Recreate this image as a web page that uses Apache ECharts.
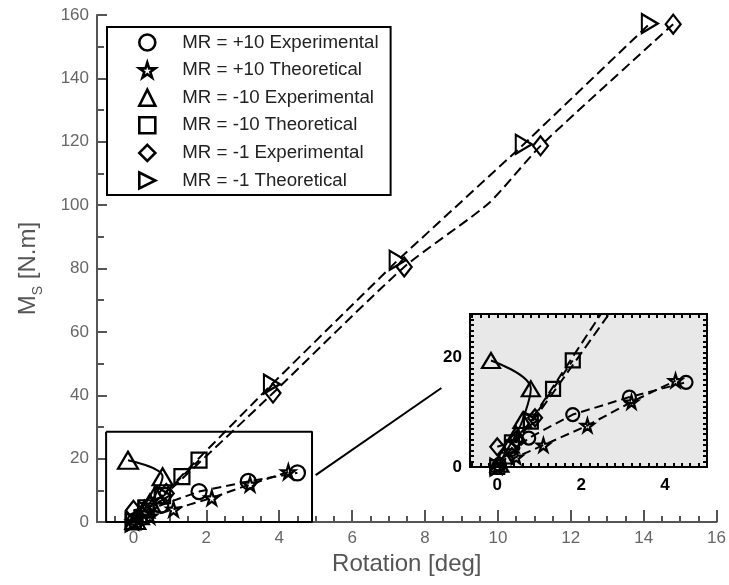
<!DOCTYPE html>
<html>
<head>
<meta charset="utf-8">
<script src="https://cdn.jsdelivr.net/npm/echarts@6/dist/echarts.min.js"></script>
<style>
html, body { margin: 0; padding: 0; background: #fff; }
#chart { width: 729px; height: 585px; }
</style>
</head>
<body>
<div id="chart"></div>
<script>
// series values (rotation in deg, moment in N.m)
var names = ['MR = +10 Experimental', 'MR = +10 Theoretical', 'MR = -10 Experimental',
             'MR = -10 Theoretical', 'MR = -1 Experimental', 'MR = -1 Theoretical'];

var p10ExpX = [0.05, 0.75, 1.8, 3.15, 4.5];
var p10ExpY = [0.5, 5.3, 9.6, 12.8, 15.5];

var p10TheoX = [0, 0.45, 1.1, 2.15, 3.2, 4.25];
var p10TheoY = [0, 1.8, 4.0, 7.6, 11.9, 15.8];

var m10ExpX = [-0.15, 0.8, 0.6, 0.45, 0.3, 0.15, 0.05];
var m10ExpY = [19.5, 14.3, 8.5, 6.0, 4.0, 2.0, 0.5];

var m10TheoX = [0, 0.35, 0.8, 1.33, 1.8];
var m10TheoY = [0, 4.5, 8.3, 14.3, 19.5];

var m1ExpX = [0, 0.45, 0.9, 3.83, 7.43, 9.75, 11.17, 14.81];
var m1ExpY = [3.7, 5.0, 9.0, 40.7, 80.5, 100.6, 118.7, 157.1];
var m1ExpNoMark = [5];   // bend in the curve, no marker drawn there

var m1TheoX = [0, 0.35, 0.8, 3.8, 7.25, 10.71, 14.17];
var m1TheoY = [0, 3.5, 8.5, 43.5, 82.6, 119.2, 157.3];

// zoom frame and connector drawn on the main plot
var boxX = [-0.75, 4.9, 4.9, -0.75, -0.75];
var boxY = [28.5, 28.5, 0, 0, 28.5];
var linkX = [5.0, 8.45];
var linkY = [14.8, 42.3];

// tick labels
var xMajor = [0, 2, 4, 6, 8, 10, 12, 14, 16];
var xMinor = [];
for (var t = -0.5; t <= 16; t += 0.5) xMinor.push(t);
var insetXLabels = [0, 2, 4];
var insetYLabels = [0, 20];
var insetXTicks = [];
for (var u = -0.6; u <= 5; u += 0.2) insetXTicks.push(+u.toFixed(2));
var insetYTicks = [];
for (var v = 0; v <= 28; v += 1) insetYTicks.push(v);

var starPath = 'path://M50,0 L61,35 L98,35 L68,57 L79,91 L50,70 L21,91 L32,57 L2,35 L39,35 Z';
var rightTri = 'path://M0,0 L100,50 L0,100 Z';

function zip(xs, ys, noMark) {
  return xs.map(function (x, i) {
    if (noMark && noMark.indexOf(i) >= 0) return { value: [x, ys[i]], symbol: 'none' };
    return [x, ys[i]];
  });
}

var defs = [
  { name: names[0], x: p10ExpX, y: p10ExpY, symbol: 'circle', size: 15, insetSize: 13, dash: [9, 5] },
  { name: names[1], x: p10TheoX, y: p10TheoY, symbol: starPath, size: 14, insetSize: 13, dash: [9, 5] },
  { name: names[2], x: m10ExpX, y: m10ExpY, symbol: 'triangle', size: [20, 17], insetSize: [18, 15], dash: 'solid', smooth: 0.4 },
  { name: names[3], x: m10TheoX, y: m10TheoY, symbol: 'rect', size: 15, insetSize: 14, dash: [9, 5] },
  { name: names[4], x: m1ExpX, y: m1ExpY, symbol: 'diamond', size: [15, 19], insetSize: [14, 17], dash: [10, 5], noMark: m1ExpNoMark, smooth: 0.2 },
  { name: names[5], x: m1TheoX, y: m1TheoY, symbol: rightTri, size: [16, 19], insetSize: [14, 17], dash: [10, 5] }
];

var series = [];
defs.forEach(function (d) {
  [0, 1].forEach(function (k) {
    series.push({
      name: d.name,
      type: 'line',
      xAxisIndex: k === 0 ? 0 : 2,
      yAxisIndex: k === 0 ? 0 : 1,
      data: zip(d.x, d.y, d.noMark),
      symbol: d.symbol,
      symbolSize: k === 0 ? d.size : d.insetSize,
      smooth: d.smooth || false,
      showAllSymbol: true,
      clip: true,
      color: '#000',
      itemStyle: { color: 'transparent', borderColor: '#000', borderWidth: 2.2 },
      lineStyle: { color: '#000', width: 2, type: d.dash },
      emphasis: { disabled: true },
      z: 3
    });
  });
});

series.push({
  name: 'frame', type: 'line', xAxisIndex: 0, yAxisIndex: 0,
  data: zip(boxX, boxY), symbol: 'none', silent: true,
  lineStyle: { color: '#000', width: 2 }, z: 2
});
series.push({
  name: 'link', type: 'line', xAxisIndex: 0, yAxisIndex: 0,
  data: zip(linkX, linkY), symbol: 'none', silent: true,
  lineStyle: { color: '#000', width: 2 }, z: 2
});

var gray = '#555';
var tickFont = { color: '#666', fontSize: 17, fontFamily: 'Liberation Sans Narrow, Liberation Sans, Arial' };
var insetFont = { color: '#000', fontSize: 17, fontWeight: 'bold', fontFamily: 'Liberation Sans Narrow, Liberation Sans, Arial' };

var option = {
  animation: false,
  backgroundColor: '#fff',
  grid: [
    { left: 97, right: 10, top: 15, bottom: 63 },
    { left: 470, top: 314, width: 237, height: 153, show: true, backgroundColor: '#e8e8e8', borderColor: '#000', borderWidth: 2 }
  ],
  legend: {
    orient: 'vertical',
    left: 107, top: 27,
    padding: [6, 12, 5, 31],
    itemGap: 8.6,
    itemWidth: 16, itemHeight: 16,
    borderColor: '#000', borderWidth: 2,
    backgroundColor: '#fff',
    selectedMode: false,
    textStyle: { fontSize: 18.7, color: '#222', fontFamily: 'Liberation Sans, Arial', padding: [0, 0, 0, 22] },
    itemStyle: { color: 'transparent', borderColor: '#000', borderWidth: 2.6 },
    data: defs.map(function (d) {
      return { name: d.name, icon: d.symbol };
    })
  },
  xAxis: [
    {
      gridIndex: 0, type: 'value', min: -1, max: 16,
      name: 'Rotation [deg]', nameLocation: 'middle', nameGap: 30,
      nameTextStyle: { color: gray, fontSize: 24, fontFamily: 'Liberation Sans, Arial' },
      axisLine: { onZero: false, lineStyle: { color: gray, width: 2 } },
      axisTick: { inside: true, length: 6, customValues: xMinor, lineStyle: { color: gray, width: 2 } },
      axisLabel: Object.assign({ customValues: xMajor, margin: 8 }, tickFont),
      splitLine: { show: false }
    },
    {
      gridIndex: 0, type: 'value', min: -1, max: 16, position: 'bottom',
      axisLine: { show: false, onZero: false },
      axisTick: { inside: true, length: 12, customValues: xMajor, lineStyle: { color: gray, width: 2 } },
      axisLabel: { show: false },
      splitLine: { show: false }
    },
    {
      gridIndex: 1, type: 'value', min: -0.65, max: 5, position: 'bottom',
      axisLine: { show: false, onZero: false },
      axisTick: { inside: true, length: 4, customValues: insetXTicks, lineStyle: { color: '#000', width: 2 } },
      axisLabel: Object.assign({ customValues: insetXLabels, margin: 10 }, insetFont),
      splitLine: { show: false }
    },
    {
      gridIndex: 1, type: 'value', min: -0.65, max: 5, position: 'top',
      axisLine: { show: false, onZero: false },
      axisTick: { inside: true, length: 4, customValues: insetXTicks, lineStyle: { color: '#000', width: 2 } },
      axisLabel: { show: false },
      splitLine: { show: false }
    }
  ],
  yAxis: [
    {
      gridIndex: 0, type: 'value', min: 0, max: 160, interval: 20,
      name: '{m|M}{s|S}{m| [N.m]}', nameLocation: 'middle', nameGap: 52, nameRotate: 90,
      nameTextStyle: {
        color: gray, fontFamily: 'Liberation Sans, Arial',
        rich: {
          m: { fontSize: 24, color: gray, lineHeight: 34, fontFamily: 'Liberation Sans, Arial' },
          s: { fontSize: 14, color: gray, verticalAlign: 'bottom', fontFamily: 'Liberation Sans, Arial' }
        }
      },
      axisLine: { show: true, onZero: false, lineStyle: { color: gray, width: 2 } },
      axisTick: { show: true, inside: true, length: 10, lineStyle: { color: gray, width: 2 } },
      minorTick: { show: true, splitNumber: 2, length: 7, lineStyle: { color: gray, width: 2 } },
      axisLabel: Object.assign({ margin: 8 }, tickFont),
      splitLine: { show: false }
    },
    {
      gridIndex: 1, type: 'value', min: 0, max: 28, position: 'left',
      axisLine: { show: false, onZero: false },
      axisTick: { show: true, inside: true, length: 4, customValues: insetYTicks, lineStyle: { color: '#000', width: 2 } },
      axisLabel: Object.assign({ customValues: insetYLabels, margin: 8 }, insetFont),
      splitLine: { show: false }
    },
    {
      gridIndex: 1, type: 'value', min: 0, max: 28, position: 'right',
      axisLine: { show: false, onZero: false },
      axisTick: { show: true, inside: true, length: 4, customValues: insetYTicks, lineStyle: { color: '#000', width: 2 } },
      axisLabel: { show: false },
      splitLine: { show: false }
    }
  ],
  series: series
};

var chart = echarts.init(document.getElementById('chart'));
chart.setOption(option);
</script>
</body>
</html>
